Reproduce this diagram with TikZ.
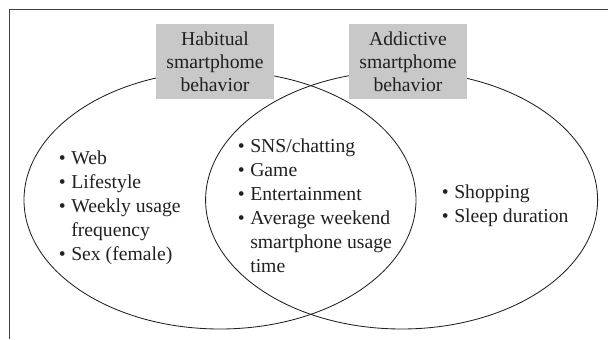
\documentclass[tikz,border=0pt]{standalone}
\usepackage{fontspec}
\setmainfont{Liberation Serif}
\usepackage{tikz}
\usetikzlibrary{shapes.geometric,positioning}
\definecolor{boxgray}{RGB}{200,200,200}
\definecolor{inkgray}{RGB}{35,31,32}
\newcommand{\bl}{\makebox[0.31cm][l]{\textbullet}}
\newcommand{\hang}{\hspace*{0.31cm}}
\tikzset{
  venn/.style={ellipse, draw=inkgray, line width=0.6pt, minimum width=9.8cm,
               minimum height=6.45cm, inner sep=0pt},
  head/.style={rectangle, fill=boxgray, minimum width=2.95cm, minimum height=1.875cm,
               align=center, inner sep=0pt, text=inkgray,
               font=\fontsize{14}{16.3}\selectfont},
  items/.style={anchor=west, align=left, inner sep=0pt, text=inkgray,
                font=\fontsize{14}{17}\selectfont},
}
\begin{document}
\begin{tikzpicture}
\useasboundingbox (0,0) rectangle (15.2,8.475);

% frame
\draw[black!75, line width=0.7pt] (15.2,8.25) -- (0.225,8.25) -- (0.225,0);

% circles
\node[venn] (habit) at (5.5,3.475) {};
\node[venn] (addict) at (10.04,3.475) {};

% headings
\node[head] (habithead) at (5.375,6.94) {Habitual\\smartphome\\behavior};
\node[head] (addicthead) at (10.2,6.94) {Addictive\\smartphome\\behavior};

% lists
\node[items] (habitlist) at (1.465,3.275)
  {\bl Web\\ \bl Lifestyle\\ \bl Weekly usage\\ \hang frequency\\ \bl Sex (female)};
\node[items] (bothlist) at (5.94,3.325)
  {\bl SNS/chatting\\ \bl Game\\ \bl Entertainment\\ \bl Average weekend\\
   \hang smartphone usage\\ \hang time};
\node[items] (addictlist) at (11.04,3.325)
  {\bl Shopping\\ \bl Sleep duration};

\end{tikzpicture}
\end{document}
